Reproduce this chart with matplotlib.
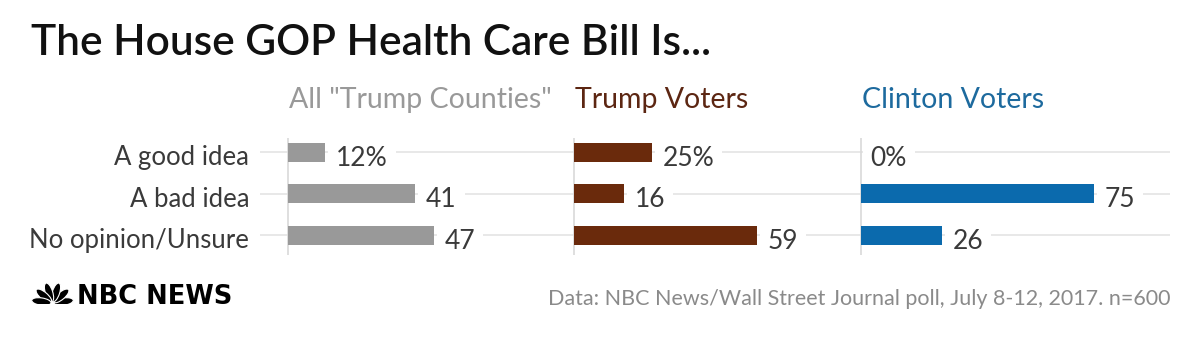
import matplotlib
matplotlib.use("Agg")
import matplotlib.pyplot as plt
import numpy as np
from matplotlib.patches import Ellipse

# ---------------------------------------------------------------------------
# Data
# ---------------------------------------------------------------------------
categories = ["A good idea", "A bad idea", "No opinion/Unsure"]
groups = ['All "Trump Counties"', "Trump Voters", "Clinton Voters"]
trump_counties = [12, 41, 47]
trump_voters = [25, 16, 59]
clinton_voters = [0, 75, 26]
values = [trump_counties, trump_voters, clinton_voters]

title = "The House GOP Health Care Bill Is..."
source = "Data: NBC News/Wall Street Journal poll, July 8-12, 2017. n=600"

# ---------------------------------------------------------------------------
# Style
# ---------------------------------------------------------------------------
FONT = ["Lato", "DejaVu Sans"]
plt.rcParams["font.family"] = FONT

bar_colors = ["#999999", "#6a2a0c", "#0b6aad"]
head_colors = ["#999999", "#5c2612", "#1d6a9e"]
TXT = "#3a3a3a"
GRID = "#e6e6e6"

W, H = 1200, 341
PX_PER_UNIT = 3.1
# panel spans (pixels): left edge, zero line, right edge
panels = [(260, 288, 546), (546, 574, 833), (833, 861, 1170)]
AX_TOP, AX_BOT = 138, 255
ROW0, ROW_STEP = 152, 41.5

fig = plt.figure(figsize=(W / 100, H / 100), dpi=100)
fig.patch.set_facecolor("white")

axes = []
for k, (left, zero, right) in enumerate(panels):
    ax = fig.add_axes([left / W, 1 - AX_BOT / H, (right - left) / W, (AX_BOT - AX_TOP) / H])
    ax.set_xlim((left - zero) / PX_PER_UNIT, (right - zero) / PX_PER_UNIT)
    ax.set_ylim((AX_BOT - ROW0) / ROW_STEP, (AX_TOP - ROW0) / ROW_STEP)
    ax.set_facecolor("none")
    for s in ax.spines.values():
        s.set_visible(False)
    ax.set_yticks(range(len(categories)))
    ax.set_xticks([])
    ax.tick_params(left=False, labelleft=False)
    ax.grid(axis="y", color=GRID, lw=1.3)
    ax.set_axisbelow(True)
    ax.axvline(0, color="#d9d9d9", lw=1.2, zorder=1)

    vals = values[k]
    ax.barh(range(len(vals)), vals, height=19 / ROW_STEP, color=bar_colors[k], zorder=3)
    for i, v in enumerate(vals):
        lab = f"{v}%" if i == 0 else f"{v}"
        ax.text(v + 11 / PX_PER_UNIT if v else 9.5 / PX_PER_UNIT, i + 0.33, lab,
                fontsize=19, color=TXT, va="baseline", ha="left", zorder=4,
                bbox=dict(boxstyle="square,pad=0.3", fc="white", ec="none"))

    # group header
    fig.text((zero + 1) / W, 1 - 108 / H, groups[k], fontsize=20.5,
             color=head_colors[k], ha="left", va="baseline")
    axes.append(ax)

# category labels to the left of the first panel
ax1 = axes[0]
for i, c in enumerate(categories):
    ax1.text((249 - 288) / PX_PER_UNIT, i + 0.32, c, fontsize=18.5,
             color=TXT, ha="right", va="baseline")

# title
fig.text(31 / W, 1 - 55 / H, title, fontsize=30.5, fontweight="semibold",
         color="#111111", ha="left", va="baseline")

# source note
fig.text(1170 / W, 1 - 305 / H, source, fontsize=15.5,
         color="#8a8a8a", ha="right", va="baseline")

# NBC News logo: peacock + wordmark
pax = fig.add_axes([31 / W, 1 - 304 / H, 43 / W, 22 / H])
pax.set_xlim(-1.05, 1.05)
pax.set_ylim(-0.02, 1.05)
pax.axis("off")
for ang in [8, 40, 72, 108, 140, 172]:
    r = np.deg2rad(ang)
    pax.add_patch(Ellipse((0.55 * np.cos(r), 0.55 * np.sin(r) + 0.02), 0.95, 0.36, angle=ang,
                          fc="black", ec="white", lw=0.8))

fig.text(77 / W, 1 - 303.5 / H, "NBC NEWS", fontsize=18.5, fontweight="bold",
         family=["DejaVu Sans"], color="black", ha="left", va="baseline")

fig.savefig("out.png", dpi=100, facecolor="white")
plt.close(fig)
